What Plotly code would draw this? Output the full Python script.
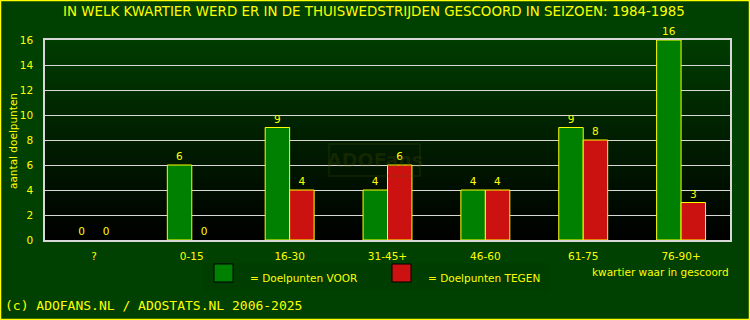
import plotly.graph_objects as go

categories = ["?", "0-15", "16-30", "31-45+", "46-60", "61-75", "76-90+"]
voor = [0, 6, 9, 4, 4, 9, 16]
tegen = [0, 0, 4, 6, 4, 8, 3]
y_ticks = [0, 2, 4, 6, 8, 10, 12, 14, 16]

W, H = 750, 320
ML, MR, MT, MB = 45, 20, 40, 80
PW, PH = W - ML - MR, H - MT - MB

YEL = "#ffff00"
GREEN = "#008000"
RED = "#cc1111"
FS = 10.5


def px(x):
    return (x - ML) / PW


def py(y):
    return 1 - (y - MT) / PH


fig = go.Figure()
fig.add_trace(go.Bar(x=categories, y=voor, name="Doelpunten VOOR",
                     marker=dict(color=GREEN, line=dict(color=YEL, width=[0 if v == 0 else 1 for v in voor])),
                     text=voor, textposition="outside", textfont=dict(color=YEL, size=FS, family="DejaVu Sans"), cliponaxis=False))
fig.add_trace(go.Bar(x=categories, y=tegen, name="Doelpunten TEGEN",
                     marker=dict(color=RED, line=dict(color=YEL, width=[0 if v == 0 else 1 for v in tegen])),
                     text=tegen, textposition="outside", textfont=dict(color=YEL, size=FS, family="DejaVu Sans"), cliponaxis=False))

shapes = []
N = 50
for i in range(N):
    g = int(round(60 * (1 - (i + 0.5) / N)))
    shapes.append(dict(type="rect", xref="paper", yref="paper", x0=0, x1=1, y0=1 - (i + 1) / N, y1=1 - i / N,
                       fillcolor=f"rgb(0,{g},0)", line=dict(width=0), layer="below"))
shapes.append(dict(type="rect", xref="paper", yref="paper", x0=px(0.5), x1=px(W - 0.5), y0=py(H - 0.5), y1=py(0.5),
                   line=dict(color=YEL, width=1.5), fillcolor="rgba(0,0,0,0)"))
shapes.append(dict(type="rect", xref="paper", yref="paper", x0=px(203), x1=px(550), y0=py(291), y1=py(263),
                   line=dict(width=0), fillcolor="rgb(0,61,0)", layer="below"))
shapes.append(dict(type="rect", xref="paper", yref="paper", x0=px(214), x1=px(233), y0=py(282), y1=py(264),
                   line=dict(color="black", width=1), fillcolor=GREEN))
shapes.append(dict(type="rect", xref="paper", yref="paper", x0=px(392), x1=px(411), y0=py(282), y1=py(264),
                   line=dict(color="black", width=1), fillcolor=RED))
shapes.append(dict(type="rect", xref="paper", yref="paper", x0=px(329), x1=px(420), y0=py(176), y1=py(144),
                   line=dict(color="rgba(90,90,0,0.22)", width=1.5), fillcolor="rgba(0,0,0,0)"))


def A(text, x, y, size=FS, xanchor="center", family="DejaVu Sans", color=YEL, angle=0):
    return dict(text=text, x=px(x), y=py(y), xref="paper", yref="paper", showarrow=False, xanchor=xanchor,
                yanchor="middle", textangle=angle, borderpad=0, font=dict(color=color, size=size, family=family))


ann = [
    A("IN WELK KWARTIER WERD ER IN DE THUISWEDSTRIJDEN GESCOORD IN SEIZOEN: 1984-1985", 374, 12, size=13.4),
    A("aantal doelpunten", 13, 141, angle=-90),
    A("= Doelpunten VOOR", 249, 278, xanchor="left"),
    A("= Doelpunten TEGEN", 427, 278, xanchor="left"),
    A("kwartier waar in gescoord", 591, 272, xanchor="left"),
    A("(c) ADOFANS.NL / ADOSTATS.NL 2006-2025", 4, 305, size=13, xanchor="left", family="DejaVu Sans Mono"),
    A("<b>ADOFans</b>", 375, 160, size=19, color="rgba(90,90,0,0.22)"),
]

fig.update_layout(
    width=W, height=H, margin=dict(l=ML, r=MR, t=MT, b=MB),
    paper_bgcolor="rgb(0,64,0)", plot_bgcolor="rgba(0,0,0,0)",
    barmode="group", bargap=0.5, bargroupgap=0, showlegend=False,
    shapes=shapes, annotations=ann,
    font=dict(family="DejaVu Sans", color=YEL, size=FS),
    xaxis=dict(showgrid=False, tickfont=dict(color=YEL, size=FS), ticks="", showline=True, linecolor="#d8d8d8",
               mirror=True, linewidth=1.5, ticklabelstandoff=6),
    yaxis=dict(range=[0, 16], tickvals=y_ticks, showgrid=True, gridcolor="#d8d8d8", gridwidth=1.2, zeroline=False,
               showline=True, linecolor="#d8d8d8", mirror=True, linewidth=1.5, tickfont=dict(color=YEL, size=FS),
               ticklabelstandoff=8),
)

fig.write_html("out.html")
